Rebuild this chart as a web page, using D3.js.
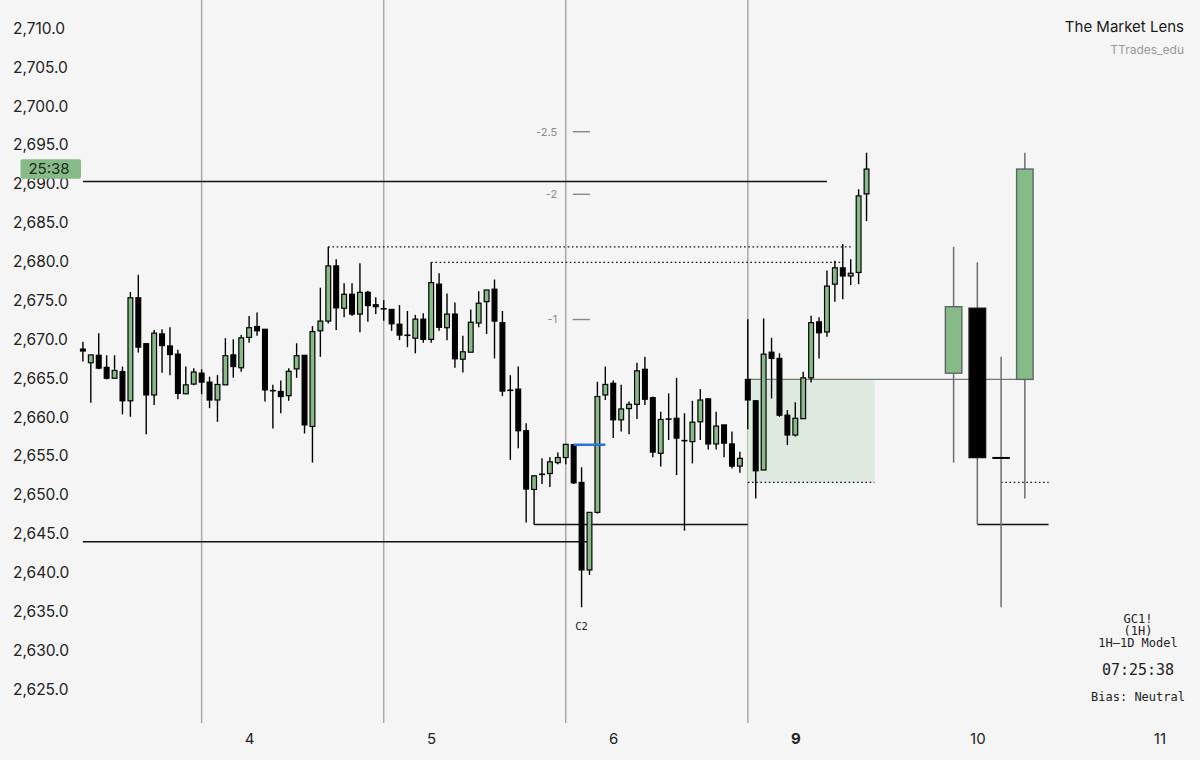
<!DOCTYPE html>
<html>
<head>
<meta charset="utf-8">
<script src="https://cdn.jsdelivr.net/npm/d3@7/dist/d3.min.js"></script>
<style>
  html, body { margin: 0; padding: 0; background: #f5f5f5; }
  svg { display: block; }
</style>
</head>
<body>
<svg id="chart" width="1200" height="760"></svg>
<script>
// ---------------- DATA ----------------
// Hourly candles, index 1..100 (GC1!, 1H)
const opens = [2668.75,2667.0,2667.95,2666.4,2665.0,2665.85,2662.1,2675.35,2669.45,2662.85,
  2670.7,2669.15,2668.1,2663.0,2664.25,2665.65,2664.5,2662.2,2664.15,2668.0,
  2666.35,2670.25,2671.65,2671.3,2663.45,2663.3,2662.75,2666.2,2667.95,2658.8,
  2671.1,2672.35,2679.45,2674.0,2675.8,2673.25,2676.05,2674.45,2674.0,2673.85,
  2671.95,2670.6,2670.15,2672.6,2670.0,2677.1,2671.5,2673.25,2667.45,2668.35,
  2672.1,2674.85,2676.45,2672.15,2663.4,2663.6,2658.25,2650.7,2652.6,2652.75,
  2654.15,2654.8,2656.45,2651.6,2640.35,2647.75,2662.85,2664.35,2659.65,2661.1,
  2661.65,2666.15,2662.5,2655.35,2659.7,2659.85,2657.0,2656.85,2659.4,2662.35,
  2656.55,2659.0,2656.55,2653.7,2664.85,2662.1,2653.2,2668.35,2667.55,2660.25,
  2657.7,2659.8,2665.05,2672.25,2670.95,2677.1,2679.2,2678.15,2678.6,2688.7];
const highs = [2669.7,2668.0,2670.8,2667.95,2667.95,2666.5,2676.1,2678.3,2669.45,2671.2,
  2671.3,2671.55,2668.65,2666.5,2666.3,2666.15,2665.2,2665.4,2670.15,2670.0,
  2670.55,2673.0,2673.45,2671.3,2664.15,2664.7,2666.3,2669.5,2667.95,2671.7,
  2676.65,2681.9,2680.3,2677.2,2677.2,2679.8,2676.25,2675.4,2675.05,2673.85,
  2674.4,2673.65,2673.15,2673.35,2679.9,2678.5,2675.9,2674.75,2670.45,2673.85,
  2676.2,2676.35,2677.7,2673.65,2665.4,2666.5,2659.2,2652.55,2654.7,2654.85,
  2655.45,2656.5,2656.45,2653.55,2647.8,2664.55,2666.5,2664.7,2664.15,2662.0,
  2667.0,2667.75,2662.65,2660.7,2663.05,2665.05,2660.5,2662.1,2663.6,2662.35,
  2660.7,2659.0,2658.15,2655.55,2672.6,2662.2,2672.7,2670.2,2668.2,2660.9,
  2661.9,2665.85,2673.05,2672.85,2678.85,2680.1,2682.25,2680.3,2689.3,2694.0];
const lows = [2667.15,2661.85,2666.15,2664.85,2665.0,2660.35,2660.05,2668.3,2657.8,2661.55,
  2665.7,2665.4,2662.3,2663.0,2664.1,2662.95,2661.15,2659.4,2664.15,2665.05,
  2665.85,2669.55,2670.45,2662.0,2658.55,2660.5,2662.1,2665.05,2657.9,2654.15,
  2667.75,2672.05,2671.2,2672.85,2673.0,2670.9,2672.25,2673.25,2672.4,2671.1,
  2669.9,2669.0,2668.2,2669.55,2669.55,2671.1,2669.9,2666.35,2665.75,2668.35,
  2671.55,2670.7,2667.55,2662.7,2654.5,2656.0,2646.45,2646.2,2651.4,2651.0,
  2653.95,2653.95,2651.4,2635.55,2639.7,2647.6,2662.2,2657.3,2658.15,2657.8,
  2659.75,2661.55,2654.85,2653.65,2657.05,2652.55,2645.4,2654.05,2657.05,2655.85,
  2655.85,2654.85,2653.4,2652.85,2658.45,2649.55,2653.2,2662.4,2660.05,2656.4,
  2657.5,2659.8,2664.45,2667.55,2670.35,2674.85,2675.15,2677.0,2677.1,2685.2];
const closes = [2668.5,2668.0,2666.3,2665.0,2666.0,2662.1,2675.35,2669.0,2662.85,2670.8,
  2669.2,2668.05,2663.05,2664.15,2665.8,2664.5,2662.2,2664.2,2667.9,2666.5,
  2670.2,2671.5,2671.1,2663.5,2663.35,2662.65,2665.9,2667.9,2659.0,2671.0,
  2672.35,2679.45,2674.05,2675.8,2673.25,2676.05,2674.35,2674.2,2673.85,2672.0,
  2670.55,2670.45,2672.6,2670.0,2677.3,2671.55,2673.25,2667.5,2668.4,2672.2,
  2674.65,2676.35,2672.35,2663.35,2663.5,2658.25,2650.75,2652.45,2652.7,2654.25,
  2654.8,2656.5,2651.55,2640.35,2647.75,2662.65,2664.2,2659.65,2661.05,2661.65,
  2665.95,2662.3,2655.5,2659.7,2659.8,2657.3,2656.95,2659.35,2662.2,2656.55,
  2658.85,2656.65,2653.7,2654.7,2662.2,2653.1,2668.1,2667.55,2660.25,2657.7,
  2659.85,2665.05,2672.15,2670.85,2676.85,2679.2,2678.15,2678.5,2688.45,2691.9];

// Sessions (first hourly index of each daily session) and their daily-candle slots
const sessionStarts = [16, 39, 62, 85];
const sessionEnd = 100;
const dailySlots = [111, 114, 117, 120];

// X axis: day labels at midnight candle index
const dayTickIdx = [22, 45, 68, 91, 114, 137];
const dayLabels = ["4", "5", "6", "9", "10", "11"];
const boldDay = "9";

// Y axis ticks
const yTicks = d3.range(2625, 2711, 5);

// Key levels
const prevHigh = { value: 2690.3, from: 1, to: 95 };
const prevLow = { value: 2643.98, from: 1, to: 64.75 };
const swingLow = { value: 2646.2, from: 58, to: 85 };
const dottedHighs = [ { value: 2681.9, from: 32, to: 98 }, { value: 2679.9, from: 45, to: 97 } ];
const blueLevel = { value: 2656.45, from: 63, to: 67 };
const fibAnchor0 = 2656.45, fibAnchor1 = 2640.35;
const fibLevels = [-1, -2, -2.5];
const fibLabels = ["-1", "-2", "-2.5"];
const boxBottom = 2651.6;
const boxRange = { from: 85, to: 101 };
const rightEdgeIdx = 123;
const c2Index = 64;

// Texts
const brand = "The Market Lens";
const handle = "TTrades_edu";
const infoLines = ["GC1!", "(1H)", "1H\u20131D Model"];
const clockText = "07:25:38";
const biasText = "Bias: Neutral";
const countdown = "25:38";

// ---------------- CHART ----------------
const svg = d3.select("#chart");
const W = 1200, H = 760;
svg.append("rect").attr("width", W).attr("height", H).attr("fill", "#f5f5f5");

const x = d3.scaleLinear().domain([1, 85]).range([82.9, 747.8]);
const y = d3.scaleLinear().domain([2625, 2710]).range([689.3, 28.3]);

const GREEN = "#86bb87";
const SANS = "Inter, 'Noto Sans', sans-serif";
const MONO = "'DejaVu Sans Mono', 'Liberation Mono', monospace";

const candles = opens.map((o, i) => ({ i: i + 1, o, h: highs[i], l: lows[i], c: closes[i] }));

// Day separators
svg.append("g").selectAll("line").data(sessionStarts).join("line")
  .attr("x1", d => x(d)).attr("x2", d => x(d))
  .attr("y1", 0).attr("y2", 723)
  .attr("stroke", "#aaaaaa").attr("stroke-width", 1.5);

// Box (day-open zone)
const dayOpen = opens[sessionStarts[3] - 1];
svg.append("rect")
  .attr("x", x(boxRange.from)).attr("y", y(dayOpen))
  .attr("width", x(boxRange.to) - x(boxRange.from))
  .attr("height", y(boxBottom) - y(dayOpen))
  .attr("fill", "#deeadf");

// Daily open gray line to daily candle
svg.append("line")
  .attr("x1", x(sessionStarts[3])).attr("x2", x(dailySlots[3]) - 8)
  .attr("y1", y(dayOpen)).attr("y2", y(dayOpen))
  .attr("stroke", "#777").attr("stroke-width", 1.3);

// Solid level lines
const solid = [prevHigh, prevLow, swingLow, { value: swingLow.value, from: dailySlots[1], to: rightEdgeIdx }];
svg.append("g").selectAll("line").data(solid).join("line")
  .attr("x1", d => x(d.from)).attr("x2", d => x(d.to))
  .attr("y1", d => y(d.value)).attr("y2", d => y(d.value))
  .attr("stroke", "#111").attr("stroke-width", 1.6);

// Dotted lines
const dotted = dottedHighs.concat([
  { value: boxBottom, from: boxRange.from, to: boxRange.to },
  { value: boxBottom, from: dailySlots[2], to: rightEdgeIdx }
]);
svg.append("g").selectAll("line").data(dotted).join("line")
  .attr("x1", d => x(d.from)).attr("x2", d => x(d.to))
  .attr("y1", d => y(d.value)).attr("y2", d => y(d.value))
  .attr("stroke", "#111").attr("stroke-width", 1.3)
  .attr("stroke-dasharray", "1.6,2.6");

// Fib levels
const fibG = svg.append("g");
fibLevels.forEach((lv, k) => {
  const v = fibAnchor0 + (fibAnchor0 - fibAnchor1) * (-lv);
  fibG.append("line")
    .attr("x1", x(63) - 1).attr("x2", x(65) + 0.5)
    .attr("y1", y(v)).attr("y2", y(v))
    .attr("stroke", "#888").attr("stroke-width", 1.4);
  fibG.append("text")
    .attr("x", x(63) - 16.5).attr("y", y(v)).attr("dy", "0.35em")
    .attr("text-anchor", "end")
    .attr("font-family", SANS).attr("font-size", 11).attr("fill", "#8a8a8a")
    .text(fibLabels[k]);
});

// Hourly candles
const bw = 4.8;
const cg = svg.append("g");
cg.selectAll("line.wick").data(candles).join("line")
  .attr("class", "wick")
  .attr("x1", d => x(d.i)).attr("x2", d => x(d.i))
  .attr("y1", d => y(d.h)).attr("y2", d => y(d.l))
  .attr("stroke", "#000").attr("stroke-width", 1.4);
cg.selectAll("rect.body").data(candles.filter(d => Math.abs(y(d.o) - y(d.c)) >= 1.5)).join("rect")
  .attr("class", "body")
  .attr("x", d => x(d.i) - bw / 2)
  .attr("y", d => y(Math.max(d.o, d.c)))
  .attr("width", bw)
  .attr("height", d => Math.abs(y(d.o) - y(d.c)))
  .attr("fill", d => d.c >= d.o ? GREEN : "#000")
  .attr("stroke", "#000").attr("stroke-width", 1.2);
cg.selectAll("line.doji").data(candles.filter(d => Math.abs(y(d.o) - y(d.c)) < 1.5)).join("line")
  .attr("class", "doji")
  .attr("x1", d => x(d.i) - bw / 2 - 0.6).attr("x2", d => x(d.i) + bw / 2 + 0.6)
  .attr("y1", d => y((d.o + d.c) / 2)).attr("y2", d => y((d.o + d.c) / 2))
  .attr("stroke", "#000").attr("stroke-width", 1.6);

// Blue level
svg.append("line")
  .attr("x1", x(blueLevel.from)).attr("x2", x(blueLevel.to))
  .attr("y1", y(blueLevel.value)).attr("y2", y(blueLevel.value))
  .attr("stroke", "#2f6fe4").attr("stroke-width", 2.6);

// C2 label
svg.append("text")
  .attr("x", x(c2Index)).attr("y", y(lows[c2Index - 1]) + 19).attr("dy", "0.35em")
  .attr("text-anchor", "middle")
  .attr("font-family", MONO).attr("font-size", 10.5).attr("fill", "#222")
  .text("C2");

// Daily candles aggregated from sessions
const daily = sessionStarts.map((s, k) => {
  const e = k < sessionStarts.length - 1 ? sessionStarts[k + 1] - 1 : sessionEnd;
  const seg = candles.slice(s - 1, e);
  return {
    slot: dailySlots[k],
    o: seg[0].o, c: seg[seg.length - 1].c,
    h: d3.max(seg, d => d.h), l: d3.min(seg, d => d.l)
  };
});
const dbw = 16.5;
const dg = svg.append("g");
dg.selectAll("line").data(daily).join("line")
  .attr("x1", d => x(d.slot)).attr("x2", d => x(d.slot))
  .attr("y1", d => y(d.h)).attr("y2", d => y(d.l))
  .attr("stroke", "#6a6e72").attr("stroke-width", 1.5);
dg.selectAll("rect").data(daily.filter(d => Math.abs(y(d.o) - y(d.c)) >= 2)).join("rect")
  .attr("x", d => x(d.slot) - dbw / 2)
  .attr("y", d => y(Math.max(d.o, d.c)))
  .attr("width", dbw)
  .attr("height", d => Math.abs(y(d.o) - y(d.c)))
  .attr("fill", d => d.c >= d.o ? GREEN : "#000")
  .attr("stroke", d => d.c >= d.o ? "#5f6468" : "#111").attr("stroke-width", 1.4);
dg.selectAll("line.ddoji").data(daily.filter(d => Math.abs(y(d.o) - y(d.c)) < 2)).join("line")
  .attr("class", "ddoji")
  .attr("x1", d => x(d.slot) - dbw / 2 - 0.5).attr("x2", d => x(d.slot) + dbw / 2 + 0.5)
  .attr("y1", d => y((d.o + d.c) / 2)).attr("y2", d => y((d.o + d.c) / 2))
  .attr("stroke", "#000").attr("stroke-width", 2);

// Y axis (labels only)
const yAxis = svg.append("g").attr("transform", "translate(13,0)")
  .call(d3.axisRight(y).tickValues(yTicks).tickSize(0).tickPadding(0).tickFormat(d3.format(",.1f")));
yAxis.select(".domain").remove();
yAxis.selectAll("text").attr("font-family", SANS).attr("font-size", 15.5).attr("fill", "#222");

// X axis (day labels)
const xAxis = svg.append("g").attr("transform", "translate(0,733)")
  .call(d3.axisBottom(x).tickValues(dayTickIdx).tickSize(0).tickPadding(0)
    .tickFormat((d, i) => dayLabels[i]));
xAxis.select(".domain").remove();
xAxis.selectAll("text").attr("font-family", SANS).attr("font-size", 15).attr("fill", "#222")
  .attr("font-weight", (d, i) => dayLabels[i] === boldDay ? 700 : 400);

// Countdown price label
const lastClose = closes[closes.length - 1];
svg.append("rect")
  .attr("x", 20.5).attr("y", y(lastClose) - 9.7).attr("width", 60.5).attr("height", 19.4)
  .attr("rx", 2).attr("fill", "#86bb87");
svg.append("text")
  .attr("x", 49).attr("y", y(lastClose)).attr("dy", "0.36em").attr("text-anchor", "middle")
  .attr("font-family", SANS).attr("font-size", 15).attr("fill", "#1e2a1e")
  .text(countdown);

// Top right brand
svg.append("text").attr("x", 1184).attr("y", 27).attr("dy", "0.35em").attr("text-anchor", "end")
  .attr("font-family", SANS).attr("font-size", 15).attr("fill", "#1a1a1a").text(brand);
svg.append("text").attr("x", 1184).attr("y", 50).attr("dy", "0.35em").attr("text-anchor", "end")
  .attr("font-family", SANS).attr("font-size", 12).attr("fill", "#999").text(handle);

// Bottom right info block
const infoY = [618.3, 630.7, 642.7];
svg.append("g").selectAll("text").data(infoLines).join("text")
  .attr("x", 1138).attr("y", (d, i) => infoY[i]).attr("dy", "0.35em").attr("text-anchor", "middle")
  .attr("font-family", MONO).attr("font-size", 12).attr("fill", "#222").text(d => d);
svg.append("text").attr("x", 1138).attr("y", 669.3).attr("dy", "0.35em").attr("text-anchor", "middle")
  .attr("font-family", MONO).attr("font-size", 15).attr("fill", "#222").text(clockText);
svg.append("text").attr("x", 1138).attr("y", 696.7).attr("dy", "0.35em").attr("text-anchor", "middle")
  .attr("font-family", MONO).attr("font-size", 12).attr("fill", "#222").text(biasText);
</script>
</body>
</html>
